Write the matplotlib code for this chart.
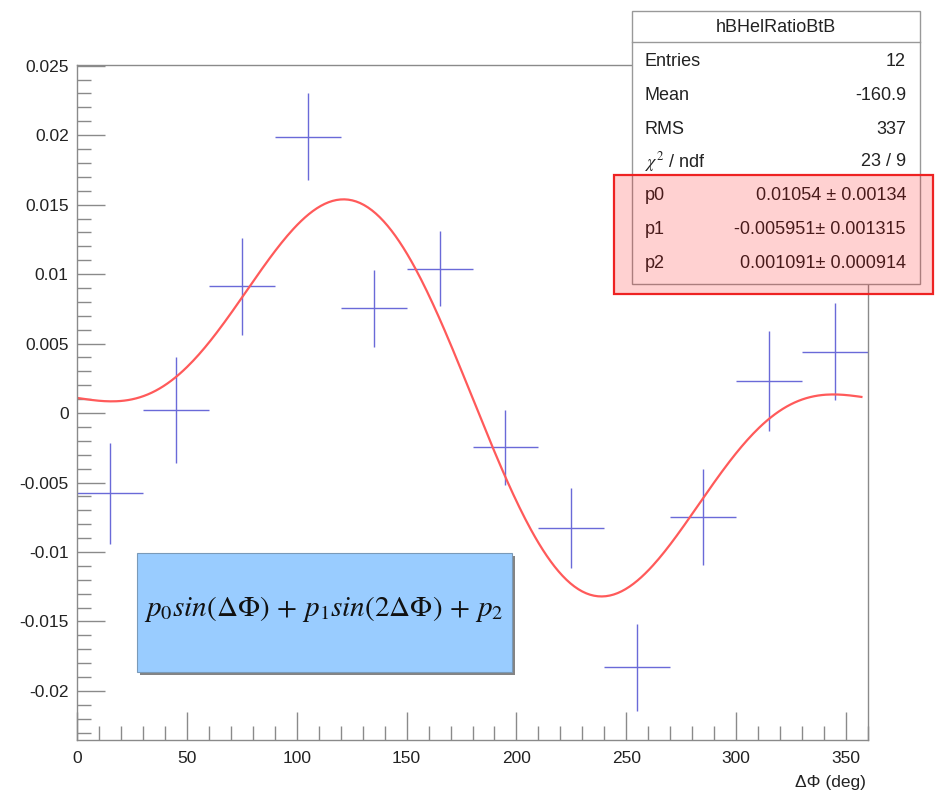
import numpy as np
import matplotlib
matplotlib.use("Agg")
import matplotlib.pyplot as plt
from matplotlib.patches import Rectangle
from matplotlib.ticker import MultipleLocator

plt.rcParams["font.family"] = ["Liberation Sans", "DejaVu Sans"]
plt.rcParams["mathtext.fontset"] = "stix"

# histogram bins (30 deg wide), values and errors
bin_centers = [15, 45, 75, 105, 135, 165, 195, 225, 255, 285, 315, 345]
bin_half_width = 15
values = [-0.00576, 0.00022, 0.00913, 0.0199, 0.00754, 0.0104,
          -0.00246, -0.00826, -0.0183, -0.00746, 0.00232, 0.00442]
errors = [0.00363, 0.0038, 0.00348, 0.00315, 0.00279, 0.0027,
          0.0027, 0.00286, 0.00315, 0.00344, 0.0036, 0.0035]

# fit parameters shown in the stats box
p0, p1, p2 = 0.01054, -0.005951, 0.001091

stats_rows = [
    ("Entries", "12"),
    ("Mean", "-160.9"),
    ("RMS", "337"),
    (r"$\chi^2$ / ndf", "23 / 9"),
    ("p0", "0.01054 \u00b1 0.00134"),
    ("p1", "-0.005951\u00b1 0.001315"),
    ("p2", "0.001091\u00b1 0.000914"),
]

W, H = 935, 800
fig = plt.figure(figsize=(W / 100, H / 100), dpi=100)
ax = fig.add_axes([77 / W, 1 - 740 / H, (868 - 77) / W, (740 - 65) / H])

frame = "#8a8a8a"
for s in ax.spines.values():
    s.set_color(frame)
    s.set_linewidth(1.0)

ax.errorbar(bin_centers, values, yerr=errors, xerr=bin_half_width,
            fmt="none", ecolor="#6a6ad8", elinewidth=1.0, capsize=0)

xf = np.linspace(0, 357, 400)
xr = np.radians(xf)
ax.plot(xf, p0 * np.sin(xr) + p1 * np.sin(2 * xr) + p2,
        color="#ff5a5a", lw=1.6)

ax.set_xlim(0, 360)
ax.set_ylim(-0.02353, 0.02505)
ax.xaxis.set_major_locator(MultipleLocator(50))
ax.xaxis.set_minor_locator(MultipleLocator(10))
ax.yaxis.set_major_locator(MultipleLocator(0.005))
ax.yaxis.set_minor_locator(MultipleLocator(0.001))
ax.tick_params(which="both", direction="in", colors=frame,
               labelcolor="#222222", labelsize=12.5)
ax.tick_params(which="major", length=20, width=1)
ax.tick_params(which="minor", length=10, width=1)
ax.tick_params(axis="x", which="major", length=20, pad=8)
ax.tick_params(axis="x", which="minor", length=10)
ax.tick_params(axis="y", pad=6)
ax.yaxis.set_major_formatter(plt.FuncFormatter(lambda v, p: f"{v:g}" if abs(v) > 1e-9 else "0"))

fig.text(866 / W, 1 - 782 / H, "\u0394\u03a6 (deg)", ha="right", va="center",
         fontsize=12.5, color="#222222")

# formula box with shadow
fig.add_artist(Rectangle((140 / W, 1 - 675 / H), 375 / W, 119 / H,
                         transform=fig.transFigure, facecolor="#666666",
                         edgecolor="none", alpha=0.8))
fig.add_artist(Rectangle((137 / W, 1 - 672 / H), 375 / W, 119 / H,
                         transform=fig.transFigure, facecolor="#99ccff",
                         edgecolor="#7a9ab8", lw=0.8))
fig.text(324 / W, 1 - 609 / H,
         r"$p_{0}sin(\Delta\Phi)\,+\,p_{1}sin(2\Delta\Phi)\,+\,p_{2}$",
         ha="center", va="center", fontsize=21, color="#111111")

# stats box
bx0, bx1, by0, by1 = 632, 920, 11, 284
fig.add_artist(Rectangle((bx0 / W, 1 - by1 / H), (bx1 - bx0) / W, (by1 - by0) / H,
                         transform=fig.transFigure, facecolor="white",
                         edgecolor="#999999", lw=1.0, zorder=5))
fig.add_artist(plt.Line2D([bx0 / W, bx1 / W], [1 - 42 / H, 1 - 42 / H],
                          transform=fig.transFigure, color="#999999", lw=1.0, zorder=6))
fig.text((bx0 + bx1) / 2 / W, 1 - 27 / H, "hBHelRatioBtB", ha="center", va="center",
         fontsize=13, color="#222222", zorder=7)
row_y = [62, 96, 129, 162, 196, 229, 263]
for (name, val), yy in zip(stats_rows, row_y):
    fig.text(645 / W, 1 - yy / H, name, ha="left", va="center",
             fontsize=13, color="#222222", zorder=7)
    fig.text(906 / W, 1 - yy / H, val, ha="right", va="center",
             fontsize=13, color="#222222", zorder=7)

# red highlight around fit parameters
fig.add_artist(Rectangle((614 / W, 1 - 294 / H), (933 - 614) / W, (294 - 175) / H,
                         transform=fig.transFigure, facecolor=(1, 0, 0, 0.18),
                         edgecolor="#ee2222", lw=1.6, zorder=8))

fig.savefig("out.png", dpi=100)
